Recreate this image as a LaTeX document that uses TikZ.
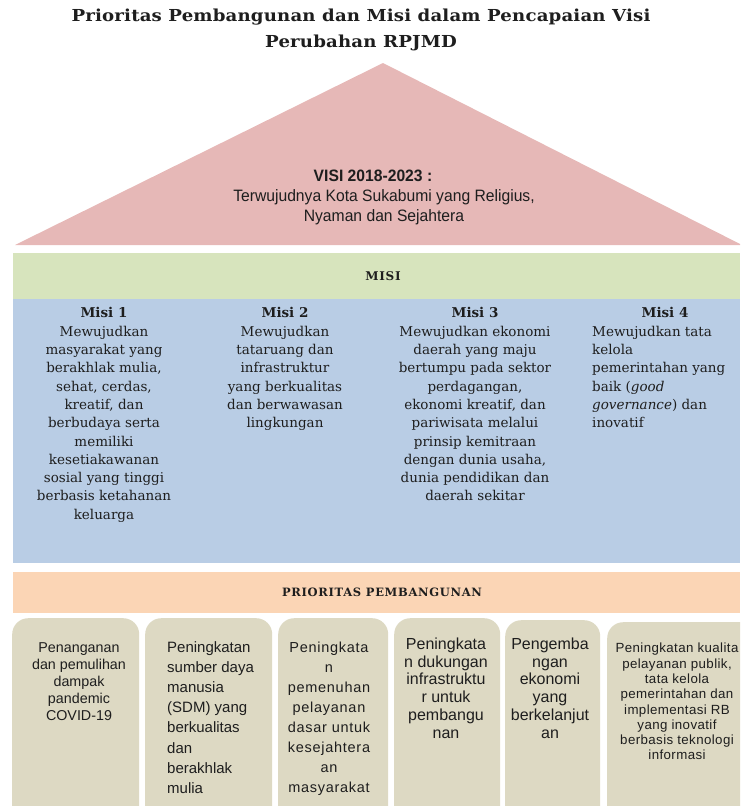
\documentclass[tikz,border=0pt]{standalone}
\usepackage{fontspec}
\setmainfont{DejaVu Serif}
\newfontfamily\slab{DejaVu Serif}
\newfontfamily\slabtitle[FakeStretch=1.1,LetterSpace=1]{DejaVu Serif}
\newfontfamily\slabsp[LetterSpace=6]{DejaVu Serif}
\newfontfamily\narrow[FakeStretch=0.95]{Liberation Sans}
\newfontfamily\arial{Liberation Sans}
\newfontfamily\arialsp[LetterSpace=5]{Liberation Sans}
\newfontfamily\arialspb[LetterSpace=3]{Liberation Sans}
\definecolor{roofc}{HTML}{E6B8B7}
\definecolor{greenc}{HTML}{D7E4BD}
\definecolor{bluec}{HTML}{B9CDE5}
\definecolor{peachc}{HTML}{FBD5B5}
\definecolor{tanc}{HTML}{DDD9C3}
\definecolor{inkc}{HTML}{1E1E1E}
\begin{document}
\begin{tikzpicture}[x=1pt,y=-1pt,
  txt/.style={inner sep=0pt, text=inkc},
  misitxt/.style={txt, align=center, anchor=north, font=\slab\fontsize{13.5}{18.3}\selectfont},
  pbox/.style={fill=tanc, rounded corners=16pt, inner sep=0pt, anchor=north west},
  band/.style={inner sep=0pt, anchor=north west},
  boxtxt/.style={txt, align=center, anchor=north},
]
\useasboundingbox (0,0) rectangle (740,806);
\begin{scope}
\clip (0,0) rectangle (740,806);
% title
\node[txt, align=center, font=\slabtitle\bfseries\fontsize{16.5}{26}\selectfont] (title) at (361,30)
  {Prioritas Pembangunan dan Misi dalam Pencapaian Visi\\Perubahan RPJMD};
% roof
\coordinate (roofL) at (15,245);
\coordinate (roofT) at (383,63);
\coordinate (roofR) at (742,245);
\fill[roofc] (roofL) -- (roofT) -- (roofR) -- cycle;
\node[txt, font=\narrow\bfseries\fontsize{16.5}{20}\selectfont] (visihead) at (373,176) {VISI 2018-2023 :};
\node[txt, align=center, font=\narrow\fontsize{16.5}{20}\selectfont] (visi) at (384,207)
  {Terwujudnya Kota Sukabumi yang Religius,\\Nyaman dan Sejahtera};
% misi bands
\node[band, fill=greenc, minimum width=727, minimum height=46] (misibar) at (13,253) {};
\node[txt, font=\slabsp\bfseries\fontsize{12}{14}\selectfont] (misilabel) at (383,276) {MISI};
\node[band, fill=bluec, minimum width=727, minimum height=264] (misiarea) at (13,299) {};
\node[misitxt] (m1) at (104,307.5) {\textbf{Misi 1}\\Mewujudkan\\masyarakat yang\\berakhlak mulia,\\sehat, cerdas,\\kreatif, dan\\berbudaya serta\\memiliki\\kesetiakawanan\\sosial yang tinggi\\berbasis ketahanan\\keluarga};
\node[misitxt] (m2) at (285,307.5) {\textbf{Misi 2}\\Mewujudkan\\tataruang dan\\infrastruktur\\yang berkualitas\\dan berwawasan\\lingkungan};
\node[misitxt] (m3) at (475,307.5) {\textbf{Misi 3}\\Mewujudkan ekonomi\\daerah yang maju\\bertumpu pada sektor\\perdagangan,\\ekonomi kreatif, dan\\pariwisata melalui\\prinsip kemitraan\\dengan dunia usaha,\\dunia pendidikan dan\\daerah sekitar};
\node[misitxt] (m4h) at (665,307.5) {\textbf{Misi 4}};
\node[txt, align=left, anchor=north west, font=\slab\fontsize{13.5}{18.3}\selectfont] (m4) at (592,325.8)
  {Mewujudkan tata\\kelola\\pemerintahan yang\\baik (\textit{good}\\\textit{governance}) dan\\inovatif};
% prioritas
\node[band, fill=peachc, minimum width=727, minimum height=41] (pribar) at (13,572) {};
\node[txt, font=\slabsp\bfseries\fontsize{11.5}{13}\selectfont] (prilabel) at (382,592) {PRIORITAS PEMBANGUNAN};
\node[pbox, minimum width=127, minimum height=210] (b1) at (12,618) {};
\node[pbox, minimum width=127, minimum height=210] (b2) at (145,618) {};
\node[pbox, minimum width=110, minimum height=210] (b3) at (278,618) {};
\node[pbox, minimum width=106, minimum height=210] (b4) at (394,618) {};
\node[pbox, minimum width=95, minimum height=210] (b5) at (505,620) {};
\node[pbox, minimum width=150, minimum height=210] (b6) at (607,622) {};
\node[boxtxt, font=\arial\fontsize{14.3}{17}\selectfont] (t1) at (79,642)
  {Penanganan\\dan pemulihan\\dampak\\pandemic\\COVID-19};
\node[txt, align=left, anchor=north west, font=\arial\fontsize{15}{20.1}\selectfont] (t2) at (167,641.5)
  {Peningkatan\\sumber daya\\manusia\\(SDM) yang\\berkualitas\\dan\\berakhlak\\mulia};
\node[boxtxt, font=\arialsp\fontsize{14.5}{20}\selectfont] (t3) at (329,641.5)
  {Peningkata\\n\\pemenuhan\\pelayanan\\dasar untuk\\kesejahtera\\an\\masyarakat};
\node[boxtxt, font=\arial\fontsize{16}{17.8}\selectfont] (t4) at (446,637.5)
  {Peningkata\\n dukungan\\infrastruktu\\r untuk\\pembangu\\nan};
\node[boxtxt, font=\arial\fontsize{16}{17.8}\selectfont] (t5) at (550,637.5)
  {Pengemba\\ngan\\ekonomi\\yang\\berkelanjut\\an};
\node[boxtxt, font=\arialspb\fontsize{13.3}{15.3}\selectfont] (t6) at (677,643)
  {Peningkatan kualita\\pelayanan publik,\\tata kelola\\pemerintahan dan\\implementasi RB\\yang inovatif\\berbasis teknologi\\informasi};
\end{scope}
\end{tikzpicture}
\end{document}
